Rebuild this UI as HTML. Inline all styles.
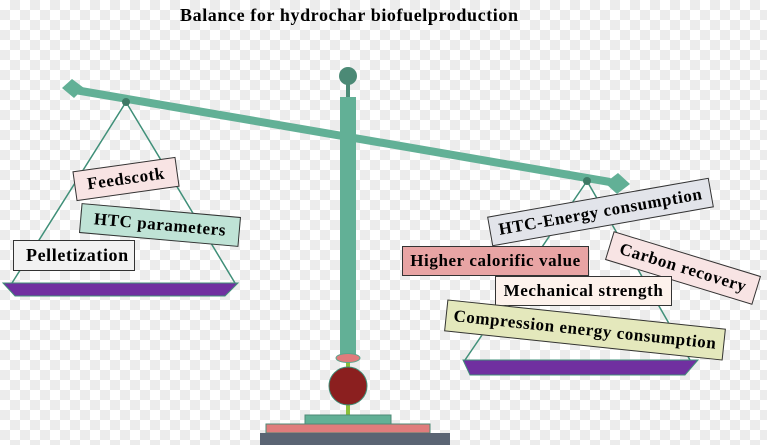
<!DOCTYPE html>
<html><head><style>
body{margin:0;width:767px;height:445px;overflow:hidden;
background-color:#fff;
background-image:linear-gradient(45deg,#ececec 25%,transparent 25%,transparent 75%,#ececec 75%),linear-gradient(45deg,#ececec 25%,transparent 25%,transparent 75%,#ececec 75%);
background-size:20px 20px;background-position:0 0,10px 10px;
font-family:"Liberation Serif",serif;position:relative}
.t{position:absolute;left:180px;top:5px;font-weight:bold;font-size:18px;letter-spacing:0.6px}
.b{position:absolute;border:1.5px solid #333;font-weight:bold;font-size:17px;letter-spacing:0.6px;display:flex;align-items:center;justify-content:center;box-sizing:border-box;white-space:nowrap}
svg{position:absolute;left:0;top:0}
</style></head><body>
<svg width="767" height="445">
<line x1="126" y1="102" x2="12" y2="283" stroke="#3f8f78" stroke-width="1.5"/>
<line x1="126" y1="102" x2="235" y2="283" stroke="#3f8f78" stroke-width="1.5"/>
<line x1="587" y1="181" x2="465" y2="360" stroke="#3f8f78" stroke-width="1.5"/>
<line x1="587" y1="181" x2="690" y2="360" stroke="#3f8f78" stroke-width="1.5"/>
<rect x="346" y="80" width="4" height="20" fill="#4c8a76"/>
<circle cx="348" cy="76" r="9" fill="#4c8a76"/>
<rect x="340" y="97" width="16" height="258" fill="#62b096"/>
<line x1="75" y1="90" x2="610" y2="182" stroke="#62b096" stroke-width="8"/>
<polygon points="62,88 72,79 84,88 74,98" fill="#62b096"/>
<polygon points="605,183 618,173 630,184 617,194" fill="#62b096"/>
<circle cx="126" cy="102" r="4" fill="#3f7a66"/>
<circle cx="587" cy="181" r="4" fill="#3f7a66"/>
<polygon points="3,283 238,283 225,296 15,296" fill="#7030a0" stroke="#3f8f78"/>
<polygon points="463,360 698,360 685,375 470,375" fill="#7030a0" stroke="#3f8f78"/>
<rect x="346" y="362" width="4" height="55" fill="#8bbf3a"/>
<ellipse cx="348" cy="358" rx="12" ry="4.5" fill="#e07c7c" stroke="#5aa58c"/>
<circle cx="348" cy="386" r="19" fill="#8b1f1f" stroke="#3f8f78"/>
<rect x="305" y="415" width="86" height="9" fill="#62b096" stroke="#4c8a76"/>
<rect x="266" y="424" width="164" height="9" fill="#e07c7c" stroke="#4c8a76"/>
<rect x="260" y="433" width="190" height="12" fill="#5a6473"/>
</svg>
<div class="t">Balance for hydrochar biofuelproduction</div>
<div class="b" style="left:74px;top:164px;width:104px;height:30px;background:#f8e4e4;transform:rotate(-8deg)">Feedscotk</div>
<div class="b" style="left:80px;top:210px;width:160px;height:30px;background:#bfe3d6;transform:rotate(5deg)">HTC parameters</div>
<div class="b" style="left:13px;top:240px;width:122px;height:31px;background:#f2f2f2;justify-content:flex-start;padding-left:12px;font-size:18px">Pelletization</div>
<div class="b" style="left:488px;top:197px;width:225px;height:30px;background:#e2e4ea;transform:rotate(-10deg)">HTC-Energy consumption</div>
<div class="b" style="left:606px;top:253px;width:154px;height:30px;background:#f8e4e4;transform:rotate(17deg)">Carbon recovery</div>
<div class="b" style="left:402px;top:246px;width:187px;height:30px;background:#e8a4a4">Higher calorific value</div>
<div class="b" style="left:495px;top:276px;width:177px;height:30px;background:#fdf2ec">Mechanical strength</div>
<div class="b" style="left:445px;top:314px;width:280px;height:32px;background:#e4e8bc;transform:rotate(6deg)">Compression energy consumption</div>
</body></html>
